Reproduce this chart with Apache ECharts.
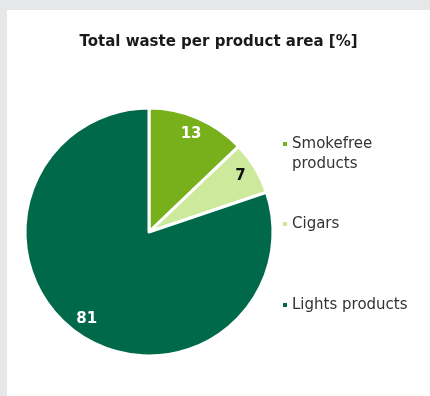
<!DOCTYPE html>
<html>
<head>
<meta charset="utf-8">
<script src="https://cdn.jsdelivr.net/npm/echarts@6/dist/echarts.min.js"></script>
<style>
  html, body { margin: 0; padding: 0; background: #e6e7e9; }
  #frame { position: absolute; left: 7px; top: 10px; width: 423px; height: 386px; background: #ffffff; }
  #chart { width: 423px; height: 386px; }
</style>
</head>
<body>
<div id="frame"><div id="chart"></div></div>
<script>
// Share of total waste by product area, in percent
const categories = ['Smokefree products', 'Cigars', 'Lights products'];
// The leading blank line keeps the first text line level with the marker
const legendLabels = [' \nSmokefree\nproducts', 'Cigars', 'Lights products'];
const values = [13, 7, 81];
const colors = ['#78b01c', '#cdea9c', '#00694a'];
const labelColors = ['#ffffff', '#111111', '#ffffff'];
const titleText = 'Total waste per product area [%]';

const chart = echarts.init(document.getElementById('chart'), null, { renderer: 'canvas' });

const pieData = categories.map((name, i) => ({
  name,
  value: values[i],
  itemStyle: { color: colors[i] }
}));

const labelData = categories.map((name, i) => ({
  name,
  value: values[i],
  label: { color: labelColors[i] }
}));

const center = [142, 222];
const legendTops = [99, 199, 280];

chart.setOption({
  animation: false,
  title: {
    text: titleText,
    left: 'center',
    top: 20,
    textStyle: { fontFamily: 'DejaVu Sans', fontSize: 15, fontWeight: 'bold', color: '#1a1a1a' }
  },
  legend: categories.map((name, i) => ({
    orient: 'vertical',
    left: 271,
    top: legendTops[i],
    icon: 'rect',
    itemWidth: 4,
    itemHeight: 4,
    itemGap: 0,
    selectedMode: false,
    itemStyle: { borderWidth: 0 },
    data: [name],
    formatter: () => legendLabels[i],
    textStyle: { fontFamily: 'DejaVu Sans', fontSize: 15, color: '#333333', lineHeight: 20 }
  })),
  series: [
    {
      type: 'pie',
      center,
      radius: [0, 124],
      startAngle: 90,
      clockwise: true,
      silent: true,
      label: { show: false },
      labelLine: { show: false },
      itemStyle: { borderColor: '#ffffff', borderWidth: 3 },
      data: pieData
    },
    {
      type: 'pie',
      center,
      radius: [84, 124],
      startAngle: 90,
      clockwise: true,
      silent: true,
      itemStyle: { color: 'rgba(0,0,0,0)', borderWidth: 0 },
      label: {
        show: true,
        position: 'inside',
        formatter: '{c}',
        fontFamily: 'DejaVu Sans',
        fontSize: 15,
        fontWeight: 'bold'
      },
      labelLine: { show: false },
      data: labelData
    }
  ]
});
</script>
</body>
</html>
